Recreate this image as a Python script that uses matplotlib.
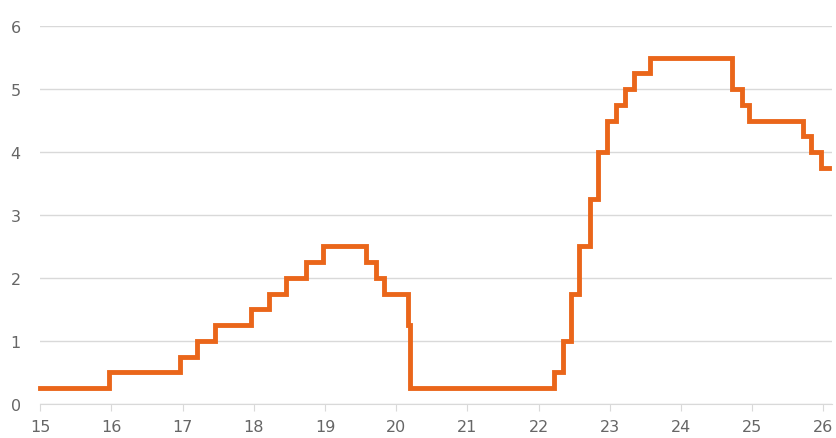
import matplotlib
matplotlib.use("Agg")
import matplotlib.pyplot as plt

# 정책금리 변경 시점 (연도 - 2000, 소수) 과 금리 (%)
dates = [15.00, 15.96, 16.96, 17.20, 17.45, 17.96, 18.22, 18.45, 18.74, 18.97,
         19.58, 19.71, 19.83, 20.17, 20.20, 22.21, 22.34, 22.45, 22.57, 22.72,
         22.84, 22.96, 23.08, 23.21, 23.34, 23.57, 24.71, 24.85, 24.96, 25.71,
         25.83, 25.96, 26.08]
rates = [0.25, 0.50, 0.75, 1.00, 1.25, 1.50, 1.75, 2.00, 2.25, 2.50,
         2.25, 2.00, 1.75, 1.25, 0.25, 0.50, 1.00, 1.75, 2.50, 3.25,
         4.00, 4.50, 4.75, 5.00, 5.25, 5.50, 5.00, 4.75, 4.50, 4.25,
         4.00, 3.75, 3.75]
xticks = list(range(15, 27))
yticks = list(range(0, 7))

fig = plt.figure(figsize=(8.37, 4.39), dpi=100)
ax = fig.add_axes([0.048, 0.078, 0.946, 0.860])

ax.step(dates, rates, where='post', color='#EA661A', lw=3.5,
        solid_joinstyle='miter', clip_on=False, zorder=3)

ax.set_xlim(15, 26.12)
ax.set_ylim(0, 6)
ax.set_xticks(xticks)
ax.set_xticklabels([str(t) for t in xticks])
ax.set_yticks(yticks)

ax.grid(axis='y', color='#D9D9D9', lw=1)
ax.set_axisbelow(True)
for s in ['top', 'right', 'left']:
    ax.spines[s].set_visible(False)
ax.spines['bottom'].set_color('#D9D9D9')
ax.tick_params(axis='x', length=5, color='#D9D9D9', pad=6,
               labelsize=11.5, labelcolor='#666666')
ax.tick_params(axis='y', length=0, pad=14,
               labelsize=11.5, labelcolor='#666666')

plt.savefig('out.png', dpi=100)
